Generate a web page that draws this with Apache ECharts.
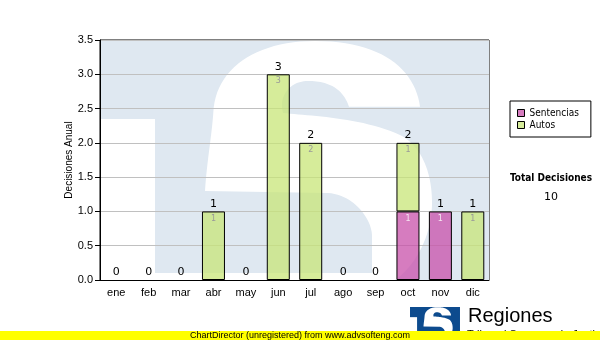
<!DOCTYPE html>
<html><head><meta charset="utf-8">
<script src="https://cdn.jsdelivr.net/npm/echarts@6/dist/echarts.min.js"></script>
<style>html,body{margin:0;padding:0;background:#fff}#c{width:600px;height:340px}</style>
</head><body><div id="c"></div>
<script>
const categories = ['ene','feb','mar','abr','may','jun','jul','ago','sep','oct','nov','dic'];
const sentencias = [0,0,0,0,0,0,0,0,0,1,1,0];
const autos      = [0,0,0,1,0,3,2,0,0,1,0,1];
const seriesNames = ['Sentencias','Autos'];
const yAxisTitle = 'Decisiones Anual';
const totalTitle = 'Total Decisiones';
const yMin = 0, yMax = 3.5, yStep = 0.5;

const totals = categories.map((_, i) => sentencias[i] + autos[i]);
const grandTotal = totals.reduce((a, b) => a + b, 0);

// decorative watermark outline (logo "S")
const S_PATH = 'M205,191 C206.7,162.7 211.7,136 213.3,112.7 C215,69.3 255,41 315,41 C381.7,41 415,69.3 420,106.7 L349,106.7 C342,86 325,81 308,81 C290,81 278,96 283,113 C310,116 360,117 400,135 C420,145 432,170 432,203 C432,236 415,266 395,280 L154,280 L154,273 L372,273 L372,236 C372,220 355,195 328,193 L205,191 Z';

function pathToPoints(d) {
  const tok = d.match(/[MCLZ]|-?[\d.]+/g);
  const pts = []; let i = 0, cur = [0,0], cmd = null;
  const num = () => parseFloat(tok[i++]);
  while (i < tok.length) {
    if (/[MCLZ]/.test(tok[i])) cmd = tok[i++];
    if (cmd === 'Z') break;
    if (cmd === 'M' || cmd === 'L') { cur = [num(), num()]; pts.push(cur); }
    else if (cmd === 'C') {
      const p1 = [num(), num()], p2 = [num(), num()], p3 = [num(), num()], p0 = cur;
      for (let k = 1; k <= 24; k++) {
        const t = k / 24, u = 1 - t;
        pts.push([
          u*u*u*p0[0] + 3*u*u*t*p1[0] + 3*u*t*t*p2[0] + t*t*t*p3[0],
          u*u*u*p0[1] + 3*u*u*t*p1[1] + 3*u*t*t*p2[1] + t*t*t*p3[1]
        ]);
      }
      cur = p3;
    }
  }
  return pts;
}
const sPoints = pathToPoints(S_PATH);

function logo(bg, extra) {
  return Object.assign({
    type: 'group',
    children: [
      {type:'rect', shape:{x:100,y:40,width:389,height:240}, style:{fill:bg}},
      {type:'rect', shape:{x:100,y:119,width:55,height:161}, style:{fill:'#fff'}},
      {type:'polygon', shape:{points:sPoints}, style:{fill:'#fff'}}
    ]
  }, extra);
}
const withBorder = arr => arr.map(v => ({value: v, itemStyle: {borderWidth: v ? 1 : 0}}));
const s = 0.1285;
const chart = echarts.init(document.getElementById('c'), null, {renderer:'canvas'});
const labelFont = 'DejaVu Sans';
const axisFont = 'Liberation Sans';
chart.setOption({
  animation: false,
  backgroundColor: '#fff',
  grid: {left:100, top:40, width:389, height:240, show:true, borderColor:'#000', borderWidth:1, backgroundColor:'transparent'},
  graphic: [
    logo('#dfe8f1', {z:-10, silent:true}),
    logo('#0d4b8e', {x:410 - 100*s, y:307 - 40*s, scaleX:s, scaleY:s, silent:true}),
    {type:'text', x:468, y:316, silent:true, style:{text:'Regiones', fontSize:20, fontFamily:axisFont, fill:'#000', align:'left', verticalAlign:'middle'}},
    {type:'text', x:467, y:335, silent:true, style:{text:'Tribunal Supremo de Justicia', fontSize:11, fontFamily:axisFont, fill:'#000', align:'left', verticalAlign:'middle'}},
    {type:'rect', shape:{x:0,y:331,width:600,height:9}, silent:true, style:{fill:'#ffff00'}},
    {type:'text', x:300, y:335.5, silent:true, style:{text:'ChartDirector (unregistered) from www.advsofteng.com', fontSize:9, fontFamily:axisFont, fill:'#000', align:'center', verticalAlign:'middle'}},
    {type:'text', x:551, y:178, silent:true, style:{text:totalTitle, fontSize:10, fontWeight:'bold', fontFamily:'"DejaVu Sans Condensed","Liberation Sans"', fill:'#000', align:'center', verticalAlign:'middle'}},
    {type:'text', x:551, y:197, silent:true, style:{text:String(grandTotal), fontSize:11, fontFamily:labelFont, fill:'#000', align:'center', verticalAlign:'middle'}}
  ],
  legend: {
    data: seriesNames, orient:'vertical', left:510, top:101,
    padding:[6,12,6,7], itemGap:0, itemWidth:7, itemHeight:7, icon:'rect',
    borderColor:'#000', borderWidth:1, backgroundColor:'#fff',
    itemStyle:{borderColor:'#000', borderWidth:1},
    textStyle:{fontSize:10, lineHeight:12, fontFamily:'"DejaVu Sans Condensed","Liberation Sans"', color:'#000'}
  },
  xAxis: {
    type:'category', data:categories,
    axisLine:{lineStyle:{color:'#000'}},
    axisTick:{alignWithLabel:true, length:4, lineStyle:{color:'#000'}},
    axisLabel:{fontSize:11, fontFamily:axisFont, color:'#000', margin:7}
  },
  yAxis: {
    type:'value', min:yMin, max:yMax, interval:yStep,
    name:yAxisTitle, nameLocation:'middle', nameGap:26, nameRotate:90, nameMoveOverlap:false,
    nameTextStyle:{fontSize:10, fontFamily:axisFont, color:'#000'},
    axisLine:{show:true, lineStyle:{color:'#000'}},
    axisTick:{show:true, length:5, lineStyle:{color:'#000'}},
    axisLabel:{fontSize:11, fontFamily:axisFont, color:'#000', margin:7, formatter:v => v.toFixed(1)},
    splitLine:{lineStyle:{color:'#c0c0c0'}}
  },
  series: [
    {name:seriesNames[0], type:'bar', stack:'a', data:withBorder(sentencias), barWidth:23,
     itemStyle:{color:'rgba(200,80,170,0.75)', borderColor:'#000', borderWidth:1},
     label:{show:true, position:'insideTop', distance:3, fontSize:8, fontFamily:labelFont, color:'#f6e6f2', formatter:p => p.value ? String(p.value) : ''}},
    {name:seriesNames[1], type:'bar', stack:'a', data:withBorder(autos), barWidth:23,
     itemStyle:{color:'rgba(200,230,120,0.75)', borderColor:'#000', borderWidth:1},
     label:{show:true, position:'insideTop', distance:3, fontSize:8, fontFamily:labelFont, color:'#999', formatter:p => p.value ? String(p.value) : ''}},
    {name:'Total', type:'bar', stack:'a', data:categories.map(() => 0), barWidth:23, silent:true,
     itemStyle:{color:'rgba(0,0,0,0)', borderWidth:0},
     label:{show:true, position:'top', distance:2, fontSize:11, fontFamily:labelFont, color:'#000', formatter:p => String(totals[p.dataIndex])}}
  ]
});
</script></body></html>
